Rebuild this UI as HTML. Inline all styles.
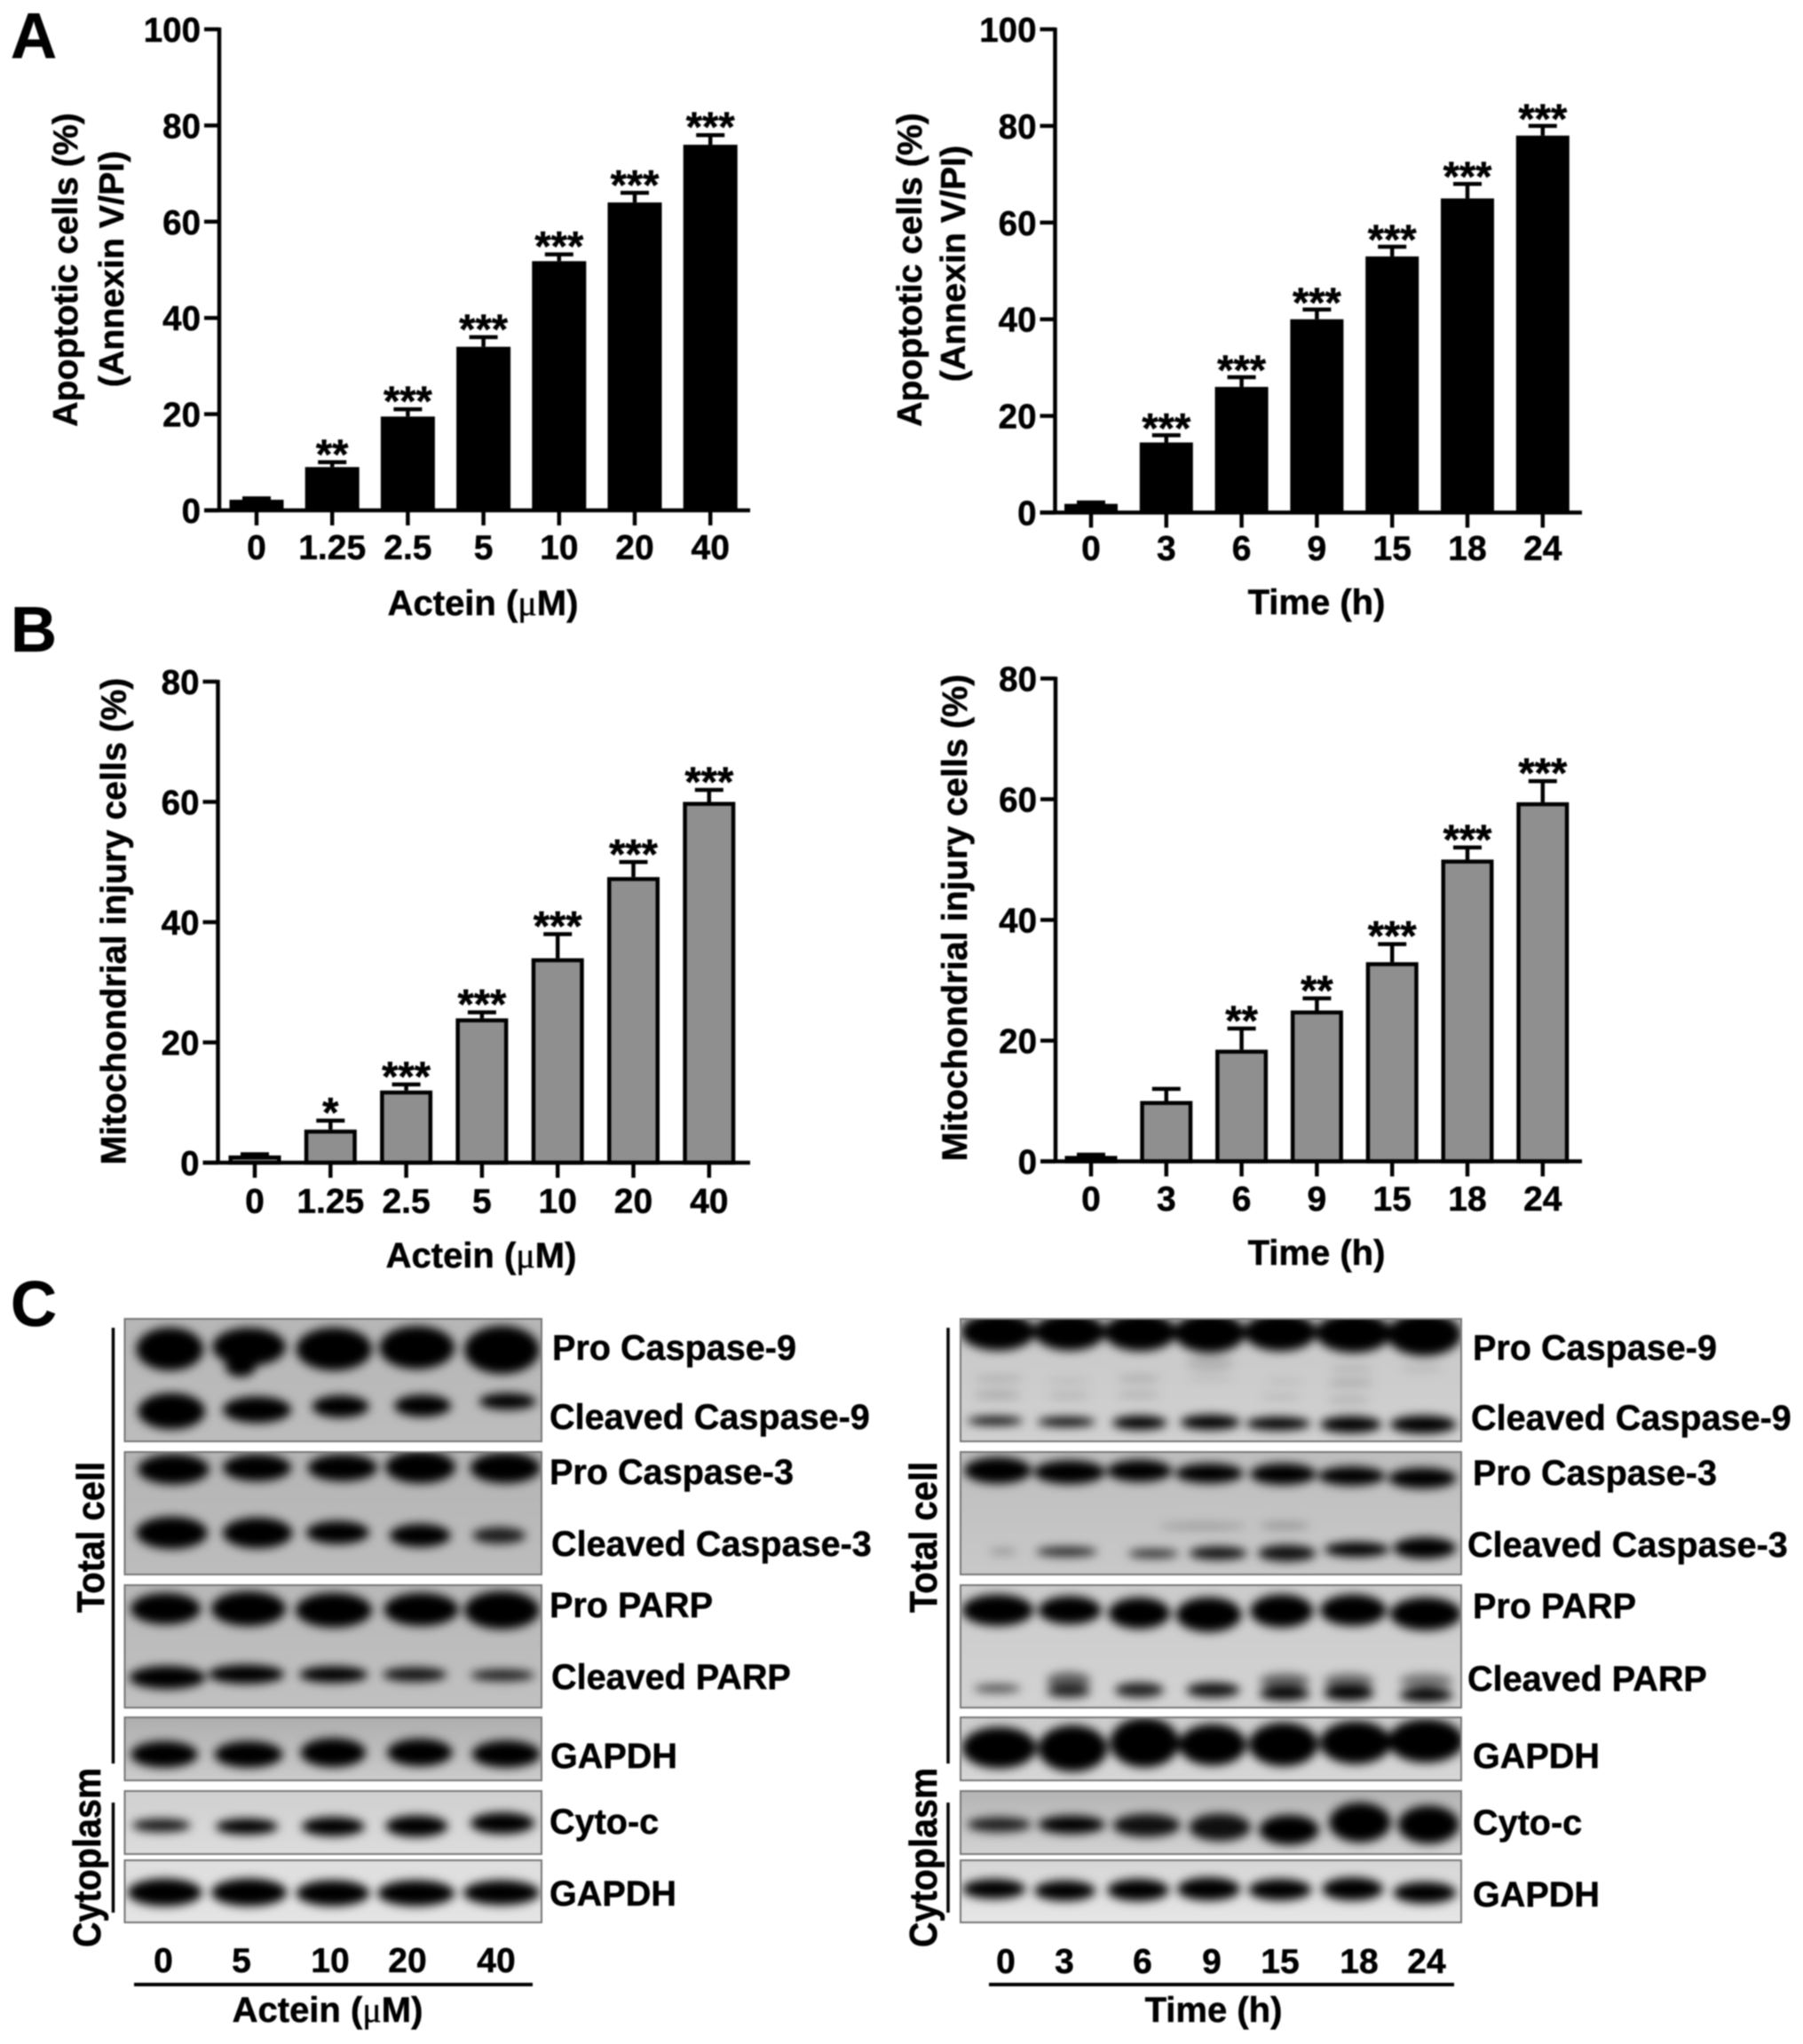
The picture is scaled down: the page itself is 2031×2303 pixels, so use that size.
<!DOCTYPE html>
<html lang="en">
<head>
<meta charset="utf-8">
<title>Actein apoptosis figure</title>
<style>
html,body{margin:0;padding:0;background:#fff;}
#figure{display:block;width:2031px;height:2303px;filter:blur(0.9px);}
text{font-family:"Liberation Sans",Arial,sans-serif;font-weight:bold;fill:#000;stroke:#000;stroke-width:0.5px;}
.mu{font-family:"Liberation Serif",serif;font-weight:normal;}
.t39{font-size:39.6px;}
.t38{font-size:39px;}
.t40{font-size:40px;}
.letter{font-size:72px;}
</style>
</head>
<body>
<svg id="figure" xmlns="http://www.w3.org/2000/svg" width="2031" height="2303" viewBox="0 0 2031 2303">
  <defs id="defs">
    <filter id="bandBlur" x="-30%" y="-60%" width="160%" height="220%"><feGaussianBlur stdDeviation="5.2"/></filter>
  </defs>
  <rect width="2031" height="2303" fill="#fff"/>

  <text class="letter" x="12" y="65">A</text>
  <text class="letter" x="12" y="734">B</text>
  <text class="letter" x="12" y="1494">C</text>

  <g id="charts"></g>
  <g id="blots"></g>

  <g>
    <text class="t39" x="622" y="1532">Pro Caspase-9</text>
    <text class="t39" x="619" y="1610">Cleaved Caspase-9</text>
    <text class="t39" x="619" y="1672">Pro Caspase-3</text>
    <text class="t39" x="621" y="1753">Cleaved Caspase-3</text>
    <text class="t39" x="619" y="1822">Pro PARP</text>
    <text class="t39" x="621" y="1903">Cleaved PARP</text>
    <text class="t39" x="620" y="1992">GAPDH</text>
    <text class="t39" x="619" y="2066">Cyto-c</text>
    <text class="t39" x="619" y="2147">GAPDH</text>

    <text class="t39" x="1659" y="1532">Pro Caspase-9</text>
    <text class="t39" x="1657" y="1611">Cleaved Caspase-9</text>
    <text class="t39" x="1659" y="1673">Pro Caspase-3</text>
    <text class="t39" x="1653" y="1754">Cleaved Caspase-3</text>
    <text class="t39" x="1659" y="1823">Pro PARP</text>
    <text class="t39" x="1653" y="1905">Cleaved PARP</text>
    <text class="t39" x="1659" y="1992">GAPDH</text>
    <text class="t39" x="1659" y="2067">Cyto-c</text>
    <text class="t39" x="1659" y="2148">GAPDH</text>

    <line x1="127.5" y1="1496" x2="127.5" y2="1987" stroke="#000" stroke-width="3.5"/>
    <line x1="127.5" y1="2031" x2="127.5" y2="2155" stroke="#000" stroke-width="3.5"/>
    <line x1="1068" y1="1496" x2="1068" y2="1987" stroke="#000" stroke-width="3.5"/>
    <line x1="1068" y1="2031" x2="1068" y2="2155" stroke="#000" stroke-width="3.5"/>

    <text class="t40" text-anchor="middle" transform="translate(117 1732) rotate(-90) scale(1 1.1)">Total cell</text>
    <text class="t39" text-anchor="middle" transform="translate(113 2093) rotate(-90) scale(1 1.1)">Cytoplasm</text>
    <text class="t40" text-anchor="middle" transform="translate(1055 1732) rotate(-90) scale(1 1.1)">Total cell</text>
    <text class="t39" text-anchor="middle" transform="translate(1055 2093) rotate(-90) scale(1 1.1)">Cytoplasm</text>

    <g class="t38" text-anchor="middle">
      <text x="184" y="2222">0</text>
      <text x="272" y="2222">5</text>
      <text x="372" y="2222">10</text>
      <text x="459" y="2222">20</text>
      <text x="559" y="2222">40</text>
    </g>
    <line x1="151" y1="2236" x2="600" y2="2236" stroke="#000" stroke-width="4"/>
    <text class="t40" x="369" y="2278" text-anchor="middle">Actein (<tspan class="mu">μ</tspan>M)</text>

    <g class="t38" text-anchor="middle">
      <text x="1133" y="2223">0</text>
      <text x="1199" y="2223">3</text>
      <text x="1287" y="2223">6</text>
      <text x="1365" y="2223">9</text>
      <text x="1442" y="2223">15</text>
      <text x="1531" y="2223">18</text>
      <text x="1607" y="2223">24</text>
    </g>
    <line x1="1114" y1="2236" x2="1638" y2="2236" stroke="#000" stroke-width="4"/>
    <text class="t40" x="1367" y="2278" text-anchor="middle">Time (h)</text>
  </g>
</svg>

<script>
// ---------- chart data ----------
const doseCategories = ['0', '1.25', '2.5', '5', '10', '20', '40'];
const timeCategories = ['0', '3', '6', '9', '15', '18', '24'];
const apoptosisTicks = [0, 20, 40, 60, 80, 100];
const injuryTicks = [0, 20, 40, 60, 80];

const apoptosisDoseValues = [2.2, 9, 19.5, 34, 51.8, 64, 76];
const apoptosisDoseErrors = [0.3, 1, 1.5, 2, 1.4, 2, 2];
const apoptosisDoseStars = ['', '**', '***', '***', '***', '***', '***'];

const apoptosisTimeValues = [1.8, 14.5, 26, 40, 53, 65, 78];
const apoptosisTimeErrors = [0.3, 1.5, 2, 2, 2, 3, 2];
const apoptosisTimeStars = ['', '***', '***', '***', '***', '***', '***'];

const injuryDoseValues = [1.2, 5.5, 12, 24, 34, 47.5, 60];
const injuryDoseErrors = [0.2, 1.5, 1, 1, 4, 2.5, 2];
const injuryDoseStars = ['', '*', '***', '***', '***', '***', '***'];

const injuryTimeValues = [0.9, 10, 18.5, 25, 33, 50, 59.5];
const injuryTimeErrors = [0.2, 2, 3.5, 2, 3, 2, 3.5];
const injuryTimeStars = ['', '', '**', '**', '***', '***', '***'];

// ---------- helpers ----------
const NS = 'http://www.w3.org/2000/svg';
function node(tag, parent, attrs) {
  const n = document.createElementNS(NS, tag);
  for (const k in attrs) n.setAttribute(k, attrs[k]);
  parent.appendChild(n);
  return n;
}

function drawChart(c) {
  const root = document.getElementById('charts');
  const g = node('g', root, {});
  
  

  const xScale = i => c.xFirst + i * c.xStep;
  const yScale = v => c.yZero - (v / c.yMax) * (c.yZero - c.yTop);

  c.values.forEach((v, i) => {
    const cx = xScale(i);
    const top = yScale(v);
    const errTop = yScale(v + c.errors[i]);

    const stem = node('line', g, { x1: cx, x2: cx, y1: errTop, y2: top, stroke: '#000', 'stroke-width': 4.5 });
    
    

    const cap = node('line', g, { x1: cx - 16, x2: cx + 16, y1: errTop, y2: errTop, stroke: '#000', 'stroke-width': 4.5 });
    
    

    const inset = c.fill === '#000' ? 0 : 2.25;
    const bar = node('rect', g, {
      x: cx - c.barWidth / 2 + inset,
      y: top + inset,
      width: c.barWidth - 2 * inset,
      height: Math.max(0, c.yZero - top - inset),
      fill: c.fill,
      stroke: '#000',
      'stroke-width': c.fill === '#000' ? 0 : 4.5
    });
    
    

    if (c.stars[i]) {
      const star = node('text', g, { x: cx, y: errTop + c.starOffset, 'text-anchor': 'middle', 'font-size': 47 });
      
      
      star.textContent = c.stars[i];
    }

    const tick = node('line', g, { x1: cx, x2: cx, y1: c.yZero, y2: c.yZero + 17, stroke: '#000', 'stroke-width': 4.5 });
    
    

    const lab = node('text', g, { x: cx, y: c.xLabelY, 'text-anchor': 'middle', 'font-size': 39 });
    
    
    lab.textContent = c.categories[i];
  });

  c.ticks.forEach(t => {
    const y = yScale(t);
    const tick = node('line', g, { x1: c.axisX - 17, x2: c.axisX, y1: y, y2: y, stroke: '#000', 'stroke-width': 4.5 });
    
    

    const lab = node('text', g, { x: c.axisX - 21, y: y + 14, 'text-anchor': 'end', 'font-size': 38.5 });
    
    
    lab.textContent = t;
  });

  const yAxis = node('line', g, { x1: c.axisX, x2: c.axisX, y1: c.yTop - 2, y2: c.yZero + 2, stroke: '#000', 'stroke-width': 4.5 });
  
  

  const xAxis = node('line', g, { x1: c.axisX - 17, x2: c.axisEnd, y1: c.yZero, y2: c.yZero, stroke: '#000', 'stroke-width': 4.5 });
  
  

  const xTitle = node('text', g, { x: c.xTitleX, y: c.xTitleY, 'text-anchor': 'middle', 'font-size': 40 });
  
  
  if (c.xTitleMu) {
    xTitle.appendChild(document.createTextNode('Actein ('));
    const mu = node('tspan', xTitle, { class: 'mu' });
    mu.textContent = 'μ';
    xTitle.appendChild(document.createTextNode('M)'));
  } else {
    xTitle.textContent = c.xTitle;
  }

  c.yTitles.forEach(t => {
    const yt = node('text', g, { 'text-anchor': 'middle', 'font-size': t.size, transform: 'translate(' + t.x + ' ' + t.y + ') rotate(-90)' });
    
    
    yt.textContent = t.text;
  });
}

drawChart({
  name: 'chart-apoptosis-dose', categories: doseCategories, values: apoptosisDoseValues, errors: apoptosisDoseErrors,
  stars: apoptosisDoseStars, ticks: apoptosisTicks, fill: '#000', yMax: 100, yZero: 575, yTop: 33,
  axisX: 247, axisEnd: 845, xFirst: 289, xStep: 85.2, barWidth: 61, starOffset: 7, xLabelY: 630,
  xTitleMu: true, xTitleX: 544, xTitleY: 693,
  yTitles: [{ text: 'Apoptotic cells (%)', x: 87, y: 304, size: 39.3 }, { text: '(Annexin V/PI)', x: 139, y: 303, size: 39.3 }]
});
drawChart({
  name: 'chart-apoptosis-time', categories: timeCategories, values: apoptosisTimeValues, errors: apoptosisTimeErrors,
  stars: apoptosisTimeStars, ticks: apoptosisTicks, fill: '#000', yMax: 100, yZero: 577.5, yTop: 33,
  axisX: 1188.5, axisEnd: 1782, xFirst: 1229, xStep: 84.8, barWidth: 60, starOffset: 8, xLabelY: 631,
  xTitle: 'Time (h)', xTitleX: 1483, xTitleY: 692,
  yTitles: [{ text: 'Apoptotic cells (%)', x: 1038, y: 304, size: 39.3 }, { text: '(Annexin V/PI)', x: 1087, y: 297, size: 39.3 }]
});
drawChart({
  name: 'chart-injury-dose', categories: doseCategories, values: injuryDoseValues, errors: injuryDoseErrors,
  stars: injuryDoseStars, ticks: injuryTicks, fill: '#8f8f8f', yMax: 80, yZero: 1310, yTop: 768,
  axisX: 245.5, axisEnd: 845, xFirst: 287, xStep: 85.3, barWidth: 59, starOffset: 7, xLabelY: 1366.5,
  xTitleMu: true, xTitleX: 542, xTitleY: 1428,
  yTitles: [{ text: 'Mitochondrial injury cells (%)', x: 141.5, y: 1038, size: 39.5 }]
});
drawChart({
  name: 'chart-injury-time', categories: timeCategories, values: injuryTimeValues, errors: injuryTimeErrors,
  stars: injuryTimeStars, ticks: injuryTicks, fill: '#8f8f8f', yMax: 80, yZero: 1308.5, yTop: 764.5,
  axisX: 1189, axisEnd: 1782, xFirst: 1229, xStep: 84.8, barWidth: 59, starOffset: 7, xLabelY: 1364,
  xTitle: 'Time (h)', xTitleX: 1483, xTitleY: 1425,
  yTitles: [{ text: 'Mitochondrial injury cells (%)', x: 1089, y: 1034, size: 39.5 }]
});

// ---------- western blot illustration (band extents are [x1, x2, y1, y2, opacity]) ----------
const leftX = z => z / 1.568;
const rightX = z => 1000 + z / 1.521;
const upperY = z => 1440 + z / 3;
const lowerY = z => 1900 + z / 3;

const leftBlots = [
  { name: 'blot-caspase-9-dose', y: 1486, h: 138, top: '#b6b6b6', bottom: '#bcbcbc', yMap: upperY, bands: [
    [245,355,175,305],[380,500,175,290],[400,450,270,330],[528,652,175,305],[675,798,170,300],[825,948,170,315],
    [248,358,395,505],[398,510,405,485],[555,648,400,468],[700,793,398,465],[850,943,392,442]] },
  { name: 'blot-caspase-3-dose', y: 1636, h: 138, top: '#b4b4b4', bottom: '#bcbcbc', yMap: upperY, bands: [
    [248,365,600,692],[398,510,600,682],[548,662,600,682],[685,800,590,688],[835,950,595,688],
    [245,362,812,910],[398,512,815,908],[545,648,825,895],[692,792,835,905],[838,925,845,895,0.85]] },
  { name: 'blot-parp-dose', y: 1786, h: 138, top: '#b8b8b8', bottom: '#c0c0c0', yMap: upperY, bands: [
    [235,350,1070,1165],[378,500,1065,1170],[527,652,1070,1175],[683,805,1070,1170],[825,948,1065,1180],
    [233,358,1315,1385],[373,497,1310,1368],[533,645,1315,1365],[680,785,1318,1362,0.9],[835,940,1325,1360,0.85]] },
  { name: 'blot-gapdh-total-dose', y: 1935, h: 71, top: '#aeaeae', bottom: '#cbcbcb', yMap: lowerY, bands: [
    [235,345,190,270],[383,495,190,270],[535,642,180,268],[688,795,182,265],[838,950,188,270]] },
  { name: 'blot-cyto-c-dose', y: 2018, h: 71, top: '#cfcfcf', bottom: '#dcdcdc', yMap: lowerY, bands: [
    [237,333,450,490,0.9],[385,487,450,498],[537,640,445,503],[685,787,440,505],[835,940,430,495]] },
  { name: 'blot-gapdh-cytoplasm-dose', y: 2096, h: 70, top: '#dedede', bottom: '#e4e4e4', yMap: lowerY, bands: [
    [230,352,655,738],[378,502,655,738],[528,648,660,738],[672,798,660,738],[823,948,660,735]] }
];

const rightBlots = [
  { name: 'blot-caspase-9-time', y: 1486, h: 138, top: '#c8c8c8', bottom: '#d0d0d0', yMap: upperY, bands: [
    [130,248,125,238],[255,368,125,238],[375,490,125,240],[495,608,125,245],[615,730,125,240],[738,858,125,245],[860,978,125,255],
    [150,230,330,350,0.15],[150,225,380,410,0.15],[275,345,340,355,0.1],[275,345,385,410,0.1],[395,465,330,350,0.16],[395,465,385,405,0.14],
    [515,590,265,310,0.13],[515,590,335,345,0.14],[650,710,345,355,0.14],[640,705,395,410,0.12],[760,830,300,315,0.16],[755,830,345,365,0.18],[755,825,400,425,0.12],[880,950,295,315,0.1],
    [140,228,470,495],[260,352,472,500],[388,475,468,510],[505,600,465,510],[618,720,472,512],[745,842,470,520],[865,970,468,522]] },
  { name: 'blot-caspase-3-time', y: 1636, h: 138, top: '#bdbdbd', bottom: '#c8c8c8', yMap: upperY, bands: [
    [135,242,610,690],[255,368,620,692],[380,483,618,685],[497,605,630,690],[625,730,630,695],[742,848,640,698],[862,970,645,708],
    [470,610,828,850,0.2],[640,720,825,850,0.22],
    [175,220,915,935,0.25],[258,355,910,940,0.8],[415,495,918,945,0.78],[520,612,910,950,0.92],[638,730,905,955,0.92],[752,855,895,940],[870,970,880,945]] },
  { name: 'blot-parp-time', y: 1786, h: 138, top: '#cbcbcb', bottom: '#d2d2d2', yMap: upperY, bands: [
    [132,245,1075,1170],[262,362,1080,1165],[382,480,1085,1180],[498,602,1085,1190],[625,725,1075,1175],[745,850,1075,1170],[865,978,1085,1185],
    [150,225,1375,1400,0.65],[275,345,1335,1385,0.55],[275,345,1380,1415,0.85],[392,470,1370,1415,0.85],[515,600,1370,1415,0.92],
    [640,720,1340,1385,0.55],[640,720,1385,1425],[750,830,1340,1385,0.5],[750,830,1380,1425],[880,965,1340,1385,0.45],[880,965,1390,1430]] },
  { name: 'blot-gapdh-total-time', y: 1935, h: 71, top: '#cccccc', bottom: '#d6d6d6', yMap: lowerY, bands: [
    [132,250,145,270],[262,372,140,280],[385,495,115,265],[503,610,135,260],[623,733,130,262],[745,858,125,255],[862,982,118,250]] },
  { name: 'blot-cyto-c-time', y: 2018, h: 71, top: '#b4b4b4', bottom: '#d2d2d2', yMap: lowerY, bands: [
    [140,242,445,490,0.85],[262,368,440,495],[390,497,435,505,0.92],[520,618,435,518,0.92],[640,735,440,530],[760,858,400,520],[878,975,410,525]] },
  { name: 'blot-gapdh-cytoplasm-time', y: 2096, h: 70, top: '#d6d6d6', bottom: '#e6e6e6', yMap: lowerY, bands: [
    [132,232,655,715],[255,352,660,722],[380,478,655,722],[500,600,650,720],[622,722,655,720],[748,845,650,720],[870,970,665,730]] }
];

function drawBlots(list, xMap, x1, x2, sideId) {
  const defs = document.getElementById('defs');
  const root = document.getElementById('blots');
  list.forEach((p, pi) => {
    const id = sideId + pi;
    const grad = node('linearGradient', defs, { id: 'grad-' + id, x1: 0, y1: 0, x2: 0, y2: 1 });
    node('stop', grad, { offset: 0, 'stop-color': p.top });
    node('stop', grad, { offset: 1, 'stop-color': p.bottom });
    const clip = node('clipPath', defs, { id: 'clip-' + id });
    node('rect', clip, { x: x1, y: p.y, width: x2 - x1, height: p.h });

    const g = node('g', root, {});
    
    

    const bg = node('rect', g, { x: x1, y: p.y, width: x2 - x1, height: p.h, fill: 'url(#grad-' + id + ')' });
    
    

    const clipped = node('g', g, { 'clip-path': 'url(#clip-' + id + ')' });
    const blurred = node('g', clipped, { filter: 'url(#bandBlur)' });
    p.bands.forEach(b => {
      const bx = xMap(b[0]);
      const by = p.yMap(b[2]);
      const bw = xMap(b[1]) - bx;
      const bh = p.yMap(b[3]) - by;
      const band = node('ellipse', blurred, {
        cx: bx + bw / 2, cy: by + bh / 2, rx: bw * 0.54, ry: bh * 0.56,
        fill: '#060606', opacity: b[4] === undefined ? 1 : b[4]
      });
      
      
    });

    const frame = node('rect', g, { x: x1, y: p.y, width: x2 - x1, height: p.h, fill: 'none', stroke: '#777', 'stroke-width': 2 });
    
    
  });
}
drawBlots(leftBlots, leftX, 140.5, 610, 'l');
drawBlots(rightBlots, rightX, 1082, 1646, 'r');
</script>
</body>
</html>
